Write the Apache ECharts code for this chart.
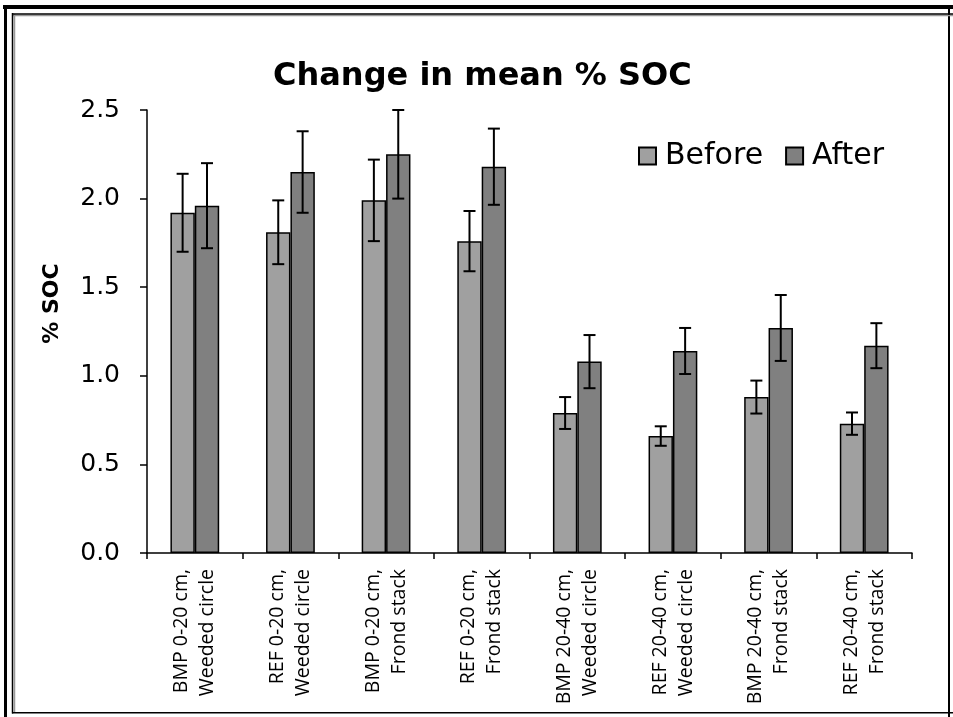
<!DOCTYPE html>
<html>
<head>
<meta charset="utf-8">
<script src="https://cdn.jsdelivr.net/npm/echarts@6/dist/echarts.min.js"></script>
<style>
  html, body { margin: 0; padding: 0; background: #fff; }
  #chart { width: 953px; height: 717px; }
</style>
</head>
<body>
<div id="chart"></div>
<script>
var categories = [
  'BMP 0-20 cm,\nWeeded circle',
  'REF 0-20 cm,\nWeeded circle',
  'BMP 0-20 cm,\nFrond stack',
  'REF 0-20 cm,\nFrond stack',
  'BMP 20-40 cm,\nWeeded circle',
  'REF 20-40 cm,\nWeeded circle',
  'BMP 20-40 cm,\nFrond stack',
  'REF 20-40 cm,\nFrond stack'
];
var seriesNames = ['Before', 'After'];
var beforeValues = [1.92, 1.81, 1.99, 1.76, 0.79, 0.66, 0.88, 0.73];
var beforeErrors = [0.22, 0.18, 0.23, 0.17, 0.09, 0.055, 0.093, 0.063];
var afterValues = [1.96, 2.15, 2.25, 2.18, 1.08, 1.14, 1.27, 1.17];
var afterErrors = [0.24, 0.23, 0.25, 0.215, 0.15, 0.13, 0.186, 0.127];
var yTicks = { min: 0, max: 2.5, interval: 0.5 };

var BAR_CAT_GAP = 0.49;

function errorData(values, errors) {
  return values.map(function (v, i) { return [i, v - errors[i], v + errors[i]]; });
}

function makeErrorSeries(name, values, errors, side) {
  return {
    type: 'custom',
    name: name + ' error',
    silent: true,
    z: 5,
    data: errorData(values, errors),
    renderItem: function (params, api) {
      var idx = api.value(0);
      var lo = api.coord([idx, api.value(1)]);
      var hi = api.coord([idx, api.value(2)]);
      var band = api.size([1, 0])[0];
      var barW = band * (1 - BAR_CAT_GAP) / 2;
      var x = lo[0] + side * barW / 2;
      var cap = 6;
      var st = { stroke: '#000', lineWidth: 2 };
      return {
        type: 'group',
        children: [
          { type: 'line', shape: { x1: x, y1: lo[1], x2: x, y2: hi[1] }, style: st },
          { type: 'line', shape: { x1: x - cap, y1: hi[1], x2: x + cap, y2: hi[1] }, style: st },
          { type: 'line', shape: { x1: x - cap, y1: lo[1], x2: x + cap, y2: lo[1] }, style: st }
        ]
      };
    }
  };
}

var chart = echarts.init(document.getElementById('chart'));
chart.setOption({
  backgroundColor: '#fff',
  animation: false,
  title: {
    text: 'Change in mean % SOC',
    left: 268,
    top: 56,
    textStyle: { fontFamily: 'DejaVu Sans', fontWeight: 'bold', fontSize: 32, color: '#000' }
  },
  legend: {
    data: seriesNames,
    left: 633,
    top: 136,
    itemWidth: 17,
    itemHeight: 17,
    itemGap: 22,
    icon: 'rect',
    textStyle: { fontFamily: 'DejaVu Sans', fontSize: 30, color: '#000', padding: [0, 0, 0, 4] }
  },
  grid: { left: 147, right: 41, top: 110, bottom: 164, containLabel: false, outerBoundsMode: 'none' },
  xAxis: {
    type: 'category',
    data: categories,
    axisLine: { lineStyle: { color: '#000', width: 1.5 } },
    axisTick: { show: true, length: 6, lineStyle: { color: '#000', width: 1.5 } },
    axisLabel: {
      rotate: 90,
      interval: 0,
      margin: 16,
      fontFamily: 'Open Sans',
      fontSize: 19.5,
      lineHeight: 26,
      color: '#000',
      padding: [8, 0, 0, 0]
    }
  },
  yAxis: {
    type: 'value',
    min: yTicks.min,
    max: yTicks.max,
    interval: yTicks.interval,
    name: '% SOC',
    nameLocation: 'middle',
    nameGap: 84,
    nameTextStyle: { fontFamily: 'DejaVu Sans', fontWeight: 'bold', fontSize: 22, color: '#000', padding: [0, 0, 0, 56] },
    axisLine: { show: true, lineStyle: { color: '#000', width: 1.5 } },
    axisTick: { show: true, length: 7, lineStyle: { color: '#000', width: 1.5 } },
    splitLine: { show: false },
    axisLabel: {
      margin: 27,
      fontFamily: 'DejaVu Sans',
      fontSize: 25,
      color: '#000',
      formatter: function (v) { return v.toFixed(1); }
    }
  },
  series: [
    {
      name: seriesNames[0],
      type: 'bar',
      data: beforeValues,
      barGap: '0%',
      barCategoryGap: (BAR_CAT_GAP * 100) + '%',
      itemStyle: { color: '#a0a0a0', borderColor: '#000', borderWidth: 1.5 }
    },
    {
      name: seriesNames[1],
      type: 'bar',
      data: afterValues,
      barGap: '0%',
      barCategoryGap: (BAR_CAT_GAP * 100) + '%',
      itemStyle: { color: '#808080', borderColor: '#000', borderWidth: 1.5 }
    },
    makeErrorSeries('Before', beforeValues, beforeErrors, -1),
    makeErrorSeries('After', afterValues, afterErrors, 1)
  ],
  graphic: [
    { type: 'line', shape: { x1: 3, y1: 7, x2: 953, y2: 7 }, style: { stroke: '#000', lineWidth: 4 } },
    { type: 'line', shape: { x1: 5.5, y1: 5, x2: 5.5, y2: 717 }, style: { stroke: '#000', lineWidth: 3 } },
    { type: 'line', shape: { x1: 949, y1: 5, x2: 949, y2: 717 }, style: { stroke: '#000', lineWidth: 2 } },
    { type: 'line', shape: { x1: 12.5, y1: 15.5, x2: 953, y2: 15.5 }, style: { stroke: '#999', lineWidth: 1.5 } },
    { type: 'line', shape: { x1: 14.5, y1: 14, x2: 14.5, y2: 712 }, style: { stroke: '#999', lineWidth: 1.5 } },
    { type: 'line', shape: { x1: 12, y1: 14, x2: 953, y2: 14 }, style: { stroke: '#000', lineWidth: 1.5 } },
    { type: 'line', shape: { x1: 12.5, y1: 13, x2: 12.5, y2: 713.5 }, style: { stroke: '#000', lineWidth: 1.5 } },
    { type: 'line', shape: { x1: 12, y1: 712.75, x2: 953, y2: 712.75 }, style: { stroke: '#000', lineWidth: 1.5 } }
  ]
});
</script>
</body>
</html>
